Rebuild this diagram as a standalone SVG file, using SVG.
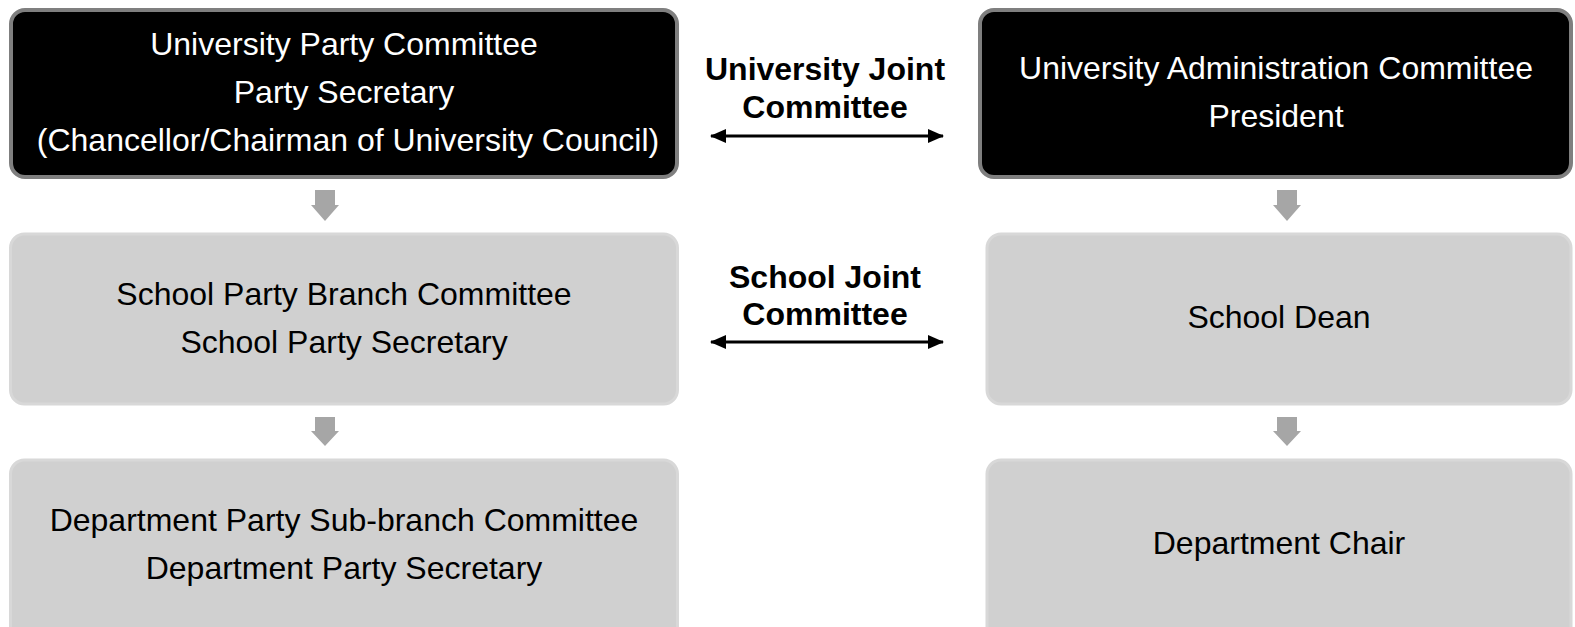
<svg xmlns="http://www.w3.org/2000/svg" width="1575" height="627" viewBox="0 0 1575 627">
<style>
.dark{fill:#000;stroke:#7f7f7f;stroke-width:4}
.light{fill:#d0d0d0;stroke:#d8d8d8;stroke-width:3}
.t{font-family:"Liberation Sans",Arial,sans-serif;font-size:32px;text-anchor:middle}
.w{fill:#fff}
.b{fill:#000}
.lbl{font-family:"Liberation Sans",Arial,sans-serif;font-size:32px;font-weight:bold;text-anchor:middle;fill:#000}
.down{fill:#a6a6a6}
.conn{stroke:#000;stroke-width:3;fill:none}
</style>
<defs>
<marker id="ah" markerWidth="16" markerHeight="14" refX="15" refY="7" orient="auto-start-reverse" markerUnits="userSpaceOnUse">
<path d="M0,0 L16,7 L0,14 Z" fill="#000"/>
</marker>
</defs>
<rect width="1575" height="627" fill="#fff"/>
<g id="univ-party">
<rect class="dark" x="11" y="10" width="666" height="167" rx="14"/>
<text class="t w" x="344" y="54.5">University Party Committee</text>
<text class="t w" x="344" y="102.5">Party Secretary</text>
<text class="t w" x="348" y="150.5">(Chancellor/Chairman of University Council)</text>
</g>
<g id="univ-admin">
<rect class="dark" x="980" y="10" width="591" height="167" rx="14"/>
<text class="t w" x="1276" y="78.5">University Administration Committee</text>
<text class="t w" x="1276" y="126.5">President</text>
</g>
<g id="school-party">
<rect class="light" x="10.5" y="234" width="667" height="170" rx="14"/>
<text class="t b" x="344" y="304.5">School Party Branch Committee</text>
<text class="t b" x="344" y="352.5">School Party Secretary</text>
</g>
<g id="school-dean">
<rect class="light" x="987" y="234" width="584" height="170" rx="14"/>
<text class="t b" x="1279" y="327.5">School Dean</text>
</g>
<g id="dept-party">
<rect class="light" x="10.5" y="460" width="667" height="200" rx="14"/>
<text class="t b" x="344" y="530.5">Department Party Sub-branch Committee</text>
<text class="t b" x="344" y="578.5">Department Party Secretary</text>
</g>
<g id="dept-chair">
<rect class="light" x="987" y="460" width="584" height="200" rx="14"/>
<text class="t b" x="1279" y="553.5">Department Chair</text>
</g>
<g id="connectors">
<path class="down" d="M315,190 H335 V205 H339 L325,221 L311,205 H315 Z"/>
<path class="down" d="M1277,190 H1297 V205 H1301 L1287,221 L1273,205 H1277 Z"/>
<path class="down" d="M315,417 H335 V431 H339 L325,446 L311,431 H315 Z"/>
<path class="down" d="M1277,417 H1297 V431 H1301 L1287,446 L1273,431 H1277 Z"/>
<line class="conn" x1="711" y1="136" x2="943" y2="136" marker-start="url(#ah)" marker-end="url(#ah)"/>
<text class="lbl" x="825" y="79.5">University Joint</text>
<text class="lbl" x="825" y="117.5">Committee</text>
<line class="conn" x1="711" y1="342" x2="943" y2="342" marker-start="url(#ah)" marker-end="url(#ah)"/>
<text class="lbl" x="825" y="287.5">School Joint</text>
<text class="lbl" x="825" y="324.5">Committee</text>
</g>
</svg>
